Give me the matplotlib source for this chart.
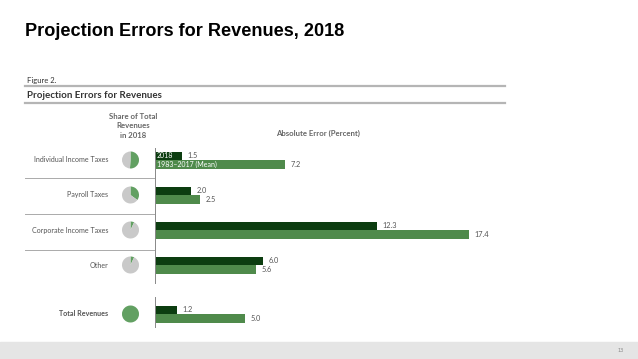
import matplotlib
matplotlib.use("Agg")
import matplotlib.pyplot as plt
from matplotlib.lines import Line2D
from matplotlib.patches import Rectangle

W, H = 638, 359

categories = ["Individual Income Taxes", "Payroll Taxes", "Corporate Income Taxes", "Other", "Total Revenues"]
err_2018 = [1.5, 2.0, 12.3, 6.0, 1.2]
err_mean = [7.2, 2.5, 17.4, 5.6, 5.0]
share_2018 = [0.51, 0.35, 0.07, 0.07, 1.0]
series_labels = ["2018", "1983\u20132017 (Mean)"]

# layout (pixel rows of each group centre)
row_y = [160, 195, 230, 265, 314]
bar_h = 8.5

DARK = "#0c3d10"
MID = "#4f8a4b"
PIE_G = "#62a062"
PIE_GREY = "#c9c9c9"
TXT = "#555555"
RULE = "#b5b5b5"


def fx(px):
    return px / W


def fy(py):
    return 1 - py / H


fig = plt.figure(figsize=(W / 100, H / 100), dpi=100)
fig.patch.set_facecolor("white")

# slide title
fig.text(fx(25), fy(32), "Projection Errors for Revenues, 2018", family="Liberation Sans",
         weight="bold", fontsize=13.1, va="center", ha="left", color="black")

# figure header
fig.text(fx(27), fy(80), "Figure 2.", family="Lato", fontsize=5.5, color="#333333", va="center")
fig.add_artist(Line2D([fx(25), fx(505)], [fy(86), fy(86)], color=RULE, lw=1.6))
fig.text(fx(27), fy(95), "Projection Errors for Revenues", family="Lato", weight="bold",
         fontsize=7, color="#333333", va="center")
fig.add_artist(Line2D([fx(25), fx(505)], [fy(103), fy(103)], color=RULE, lw=1.6))

fig.text(fx(133), fy(126), "Share of Total\nRevenues\nin 2018", family="Lato", weight="bold",
         fontsize=5.6, color="#666666", ha="center", va="center", linespacing=1.45)
fig.text(fx(318), fy(133), "Absolute Error (Percent)", family="Lato", weight="bold",
         fontsize=5.6, color="#666666", ha="center", va="center")

# bar axes: x in percent, y in pixel rows
ax = fig.add_axes([fx(155), fy(327), fx(516) - fx(155), fy(148) - fy(327)])
ax.set_xlim(0, 20)
ax.set_ylim(327, 148)
ax.axis("off")

y_dark = [y - bar_h / 2 for y in row_y]
y_mean = [y + bar_h / 2 for y in row_y]
ax.barh(y_dark, err_2018, height=bar_h, color=DARK, left=0)
ax.barh(y_mean, err_mean, height=bar_h, color=MID, left=0)

for yd, ym, a, b in zip(y_dark, y_mean, err_2018, err_mean):
    ax.text(a + 0.3, yd, f"{a:.1f}", family="Lato", fontsize=5.3, color=TXT, va="center")
    ax.text(b + 0.3, ym, f"{b:.1f}", family="Lato", fontsize=5.3, color=TXT, va="center")

ax.text(0.1, y_dark[0], series_labels[0], family="Lato", fontsize=5, color="white", va="center")
ax.text(0.1, y_mean[0], series_labels[1], family="Lato", fontsize=5, color="white", va="center")

# vertical axis lines
ax.plot([0, 0], [148, 283], color="#888888", lw=0.7, clip_on=False)
ax.plot([0, 0], [297, 327], color="#888888", lw=0.7, clip_on=False)

# row labels, separators and pies
for i, (name, y, s) in enumerate(zip(categories, row_y, share_2018)):
    fig.text(fx(108), fy(y), name, family="Lato", fontsize=5.1, color=TXT, ha="right", va="center",
             weight="bold" if i == 4 else "normal")
    pax = fig.add_axes([fx(122), fy(y + 8.5), 17 / W, 17 / H])
    if s >= 1:
        pax.pie([1], colors=[PIE_G], startangle=90)
    else:
        pax.pie([s, 1 - s], colors=[PIE_G, PIE_GREY], startangle=90, counterclock=False)
    pax.set_xlim(-1, 1)
    pax.set_ylim(-1, 1)
    pax.set_aspect("equal")

for y in [178, 214, 250]:
    fig.add_artist(Line2D([fx(25), fx(154)], [fy(y), fy(y)], color="#aaaaaa", lw=0.7))

# footer band
fig.add_artist(Rectangle((0, 0), 1, fy(342), transform=fig.transFigure, color="#e5e5e5", zorder=0))
fig.text(fx(621), fy(350), "13", fontsize=3.5, color="#888888", ha="center", va="center")

fig.savefig("out.png", dpi=100)
